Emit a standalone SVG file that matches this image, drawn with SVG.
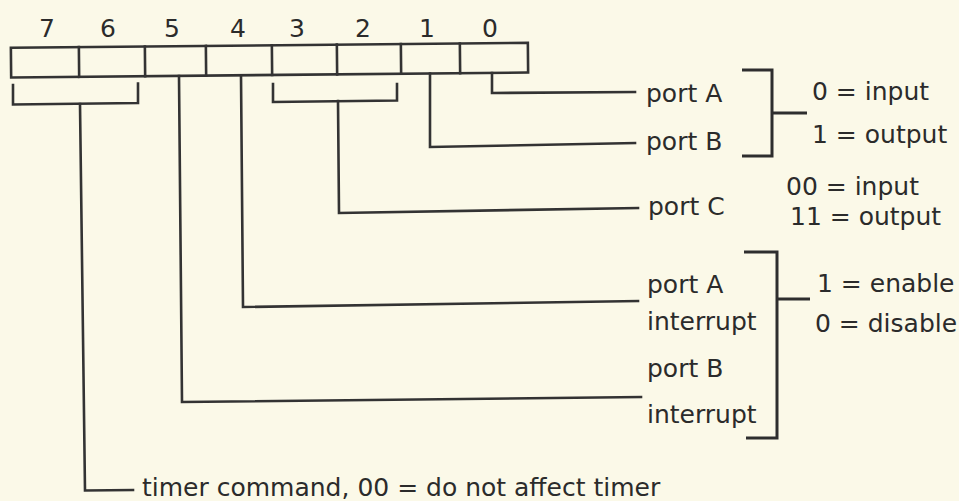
<svg xmlns="http://www.w3.org/2000/svg" width="959" height="501" viewBox="0 0 959 501">
<style>
text{font-family:"DejaVu Sans","Liberation Sans",sans-serif;fill:#2b2b2b;font-size:25px}
.d{font-size:25px;text-anchor:middle}
.ln{fill:none;stroke:#333;stroke-width:2.6;stroke-linejoin:miter;stroke-linecap:square}
.br{fill:none;stroke:#2e2e2e;stroke-width:3;stroke-linejoin:miter}
</style>
<rect x="0" y="0" width="959" height="501" fill="#fbf9e8"/>
<g id="bit-numbers">
<text class="d" x="47" y="37">7</text>
<text class="d" x="108" y="37">6</text>
<text class="d" x="172" y="37">5</text>
<text class="d" x="238" y="37">4</text>
<text class="d" x="297" y="37">3</text>
<text class="d" x="363" y="37">2</text>
<text class="d" x="427" y="37">1</text>
<text class="d" x="490" y="37">0</text>
</g>
<g id="register" transform="rotate(-0.55 270 60)">
<rect class="ln" x="11" y="45.3" width="517" height="29.7"/>
<path class="ln" d="M79,45.3V75M145,45.3V75M206,45.3V75M272,45.3V75M337,45.3V75M401,45.3V75M460,45.3V75"/>
</g>
<g id="connectors">
<path class="ln" d="M13,85 L13,104.5 L138,103 L138,83.5"/>
<path class="ln" d="M80,104 L85,490.5 L133,490"/>
<path class="ln" d="M179,76 L182,402 L641,397"/>
<path class="ln" d="M241,75.5 L243,307 L638,301"/>
<path class="ln" d="M273,84 L273,102 L397,100.5 L397,84"/>
<path class="ln" d="M338,101 L339,213 L638,208"/>
<path class="ln" d="M430,73.5 L430,147 L635,143"/>
<path class="ln" d="M492,73 L492,93 L635,92"/>
</g>
<g id="port-ab-mode">
<text x="646" y="102">port A</text>
<text x="646" y="150">port B</text>
<path class="br" d="M742,70 L772,70 L772,156 L742,156 M772,113 L807,113"/>
<text x="812" y="100">0 = input</text>
<text x="812" y="143">1 = output</text>
</g>
<g id="port-c-mode">
<text x="648" y="215">port C</text>
<text x="786" y="195">00 = input</text>
<text x="790" y="225">11 = output</text>
</g>
<g id="interrupts">
<text x="647" y="293">port A</text>
<text x="647" y="330">interrupt</text>
<text x="647" y="377">port B</text>
<text x="647" y="423">interrupt</text>
<path class="br" d="M744,252 L777,252 L777,438 L746,438 M777,299 L810,299"/>
<text x="817" y="292">1 = enable</text>
<text x="815" y="332">0 = disable</text>
</g>
<g id="timer">
<text x="142" y="496">timer command, 00 = do not affect timer</text>
</g>
</svg>
